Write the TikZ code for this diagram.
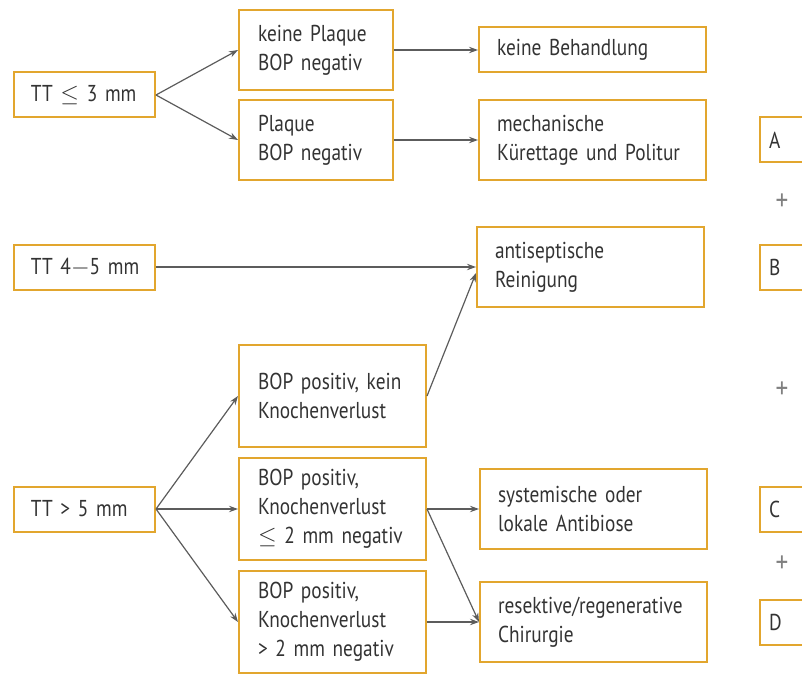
\documentclass[tikz,border=0pt]{standalone}
\usepackage{fontspec}
\setmainfont{PT Sans}[FakeStretch=0.84, WordSpace=0.8]
\usetikzlibrary{arrows.meta, positioning}

\definecolor{boxorange}{HTML}{E2A62E}
\definecolor{linegray}{HTML}{5C5C5C}
\definecolor{textgray}{HTML}{333333}

\begin{document}
\begin{tikzpicture}[
    x=0.5pt, y=-0.5pt,
    font=\fontsize{11.5}{14.5}\selectfont,
    box/.style={rectangle, draw=boxorange, line width=1pt, text=textgray, align=left, anchor=west, inner xsep=9pt, inner ysep=0pt},
    ttbox/.style={box, inner xsep=8.5pt, text width=53.5pt, minimum height=22.5pt},
    findbox/.style={box, inner xsep=9.5pt, text width=58pt, minimum height=40pt},
    bopbox/.style={box, inner xsep=9.5pt, text width=74.5pt, minimum height=51pt},
    therapy/.style={box, text width=95.5pt, minimum height=22.5pt},
    letterbox/.style={box, inner xsep=4.5pt, text width=30pt, minimum height=22.5pt},
    plus/.style={text=gray, font=\fontsize{15}{16}\selectfont},
    arrow/.style={-{Stealth[length=4.5pt, width=3.2pt]}, linegray, line width=0.6pt}
]
\useasboundingbox (0,0) rectangle (802,684);

% Ausgangsbefund
\node (tt3) [ttbox] at (13,95) {TT~$\leq$~3~mm};
\node (tt45) [ttbox] at (13,267) {TT~4$-$5~mm};
\node (tt5) [ttbox] at (13,509) {TT~>~5~mm};

% Befunde
\node (noplaque) [findbox] at (238,50) {keine Plaque\\BOP negativ};
\node (plaque) [findbox] at (238,140) {Plaque\\BOP negativ};
\node (bopkein) [bopbox] at (238,396) {BOP positiv, kein\\Knochenverlust};
\node (bopsmall) [bopbox] at (238,509) {BOP positiv,\\Knochenverlust\\$\leq$ 2 mm negativ};
\node (boplarge) [bopbox] at (238,622) {BOP positiv,\\Knochenverlust\\> 2 mm negativ};

% Therapie
\node (nothing) [therapy, right=42pt of noplaque] {keine Behandlung};
\node (mech) [therapy, minimum height=40pt, right=42pt of plaque] {mechanische\\Kürettage und Politur};
\node (antisep) [therapy, minimum height=40pt] at (476,267) {antiseptische\\Reinigung};
\node (antibio) [therapy, minimum height=40pt, right=26pt of bopsmall] {systemische oder\\lokale Antibiose};
\node (surgery) [therapy, minimum height=40pt, right=26pt of boplarge] {resektive/regenerative\\Chirurgie};

% Stufen
\node (stepA) [letterbox] at (759,140) {A};
\node (stepB) [letterbox] at (759,267) {B};
\node (stepC) [letterbox] at (759,509) {C};
\node (stepD) [letterbox] at (759,622) {D};
\node (plusAB) [plus] at (782,202) {+};
\node (plusBC) [plus] at (782,390) {+};
\node (plusCD) [plus] at (782,564) {+};

% Verbindungen
\draw [arrow] (tt3.east) -- (noplaque.west);
\draw [arrow] (tt3.east) -- (plaque.west);
\draw [arrow] (noplaque) -- (nothing);
\draw [arrow] (plaque) -- (mech);
\draw [arrow] (tt45) -- (antisep);
\draw [arrow] (bopkein.east) -- ([yshift=-3pt]antisep.west);
\draw [arrow] (tt5.east) -- (bopkein.west);
\draw [arrow] (tt5.east) -- (bopsmall.west);
\draw [arrow] (tt5.east) -- (boplarge.west);
\draw [arrow] (bopsmall) -- (antibio);
\draw [arrow] (bopsmall.east) -- (surgery.west);
\draw [arrow] (boplarge) -- (surgery);

\end{tikzpicture}
\end{document}
